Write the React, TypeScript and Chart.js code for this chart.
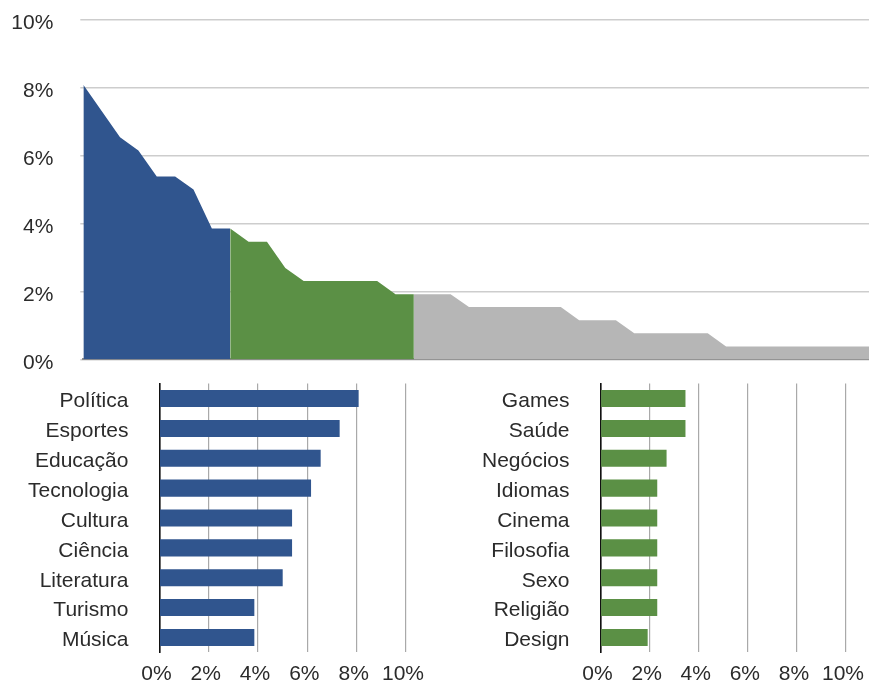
import React, { useEffect, useRef } from 'react';
import { Chart, registerables } from 'chart.js';

Chart.register(...registerables);

// Leading topics (blue group)
const topicsBlue = ['Política', 'Esportes', 'Educação', 'Tecnologia', 'Cultura', 'Ciência', 'Literatura', 'Turismo', 'Música'];
const sharesBlue = [8.08, 7.31, 6.54, 6.15, 5.38, 5.38, 5.0, 3.85, 3.85];

// Middle topics (green group)
const topicsGreen = ['Games', 'Saúde', 'Negócios', 'Idiomas', 'Cinema', 'Filosofia', 'Sexo', 'Religião', 'Design'];
const sharesGreen = [3.46, 3.46, 2.69, 2.31, 2.31, 2.31, 2.31, 2.31, 1.92];

// Remaining long tail (gray group)
const sharesOther = [
  1.92, 1.92, 1.92,
  1.54, 1.54, 1.54, 1.54, 1.54, 1.54,
  1.15, 1.15, 1.15,
  0.77, 0.77, 0.77, 0.77, 0.77,
  0.38, 0.38, 0.38, 0.38, 0.38, 0.38, 0.38, 0.38, 0.38,
];

const percentMax = 10;
const percentStep = 2;

const BLUE = '#30558e';
const GREEN = '#5b9045';
const GRAY = '#b6b6b6';
const TEXT = '#2b2b2b';
const FONT = { family: '"Liberation Sans", Arial, Helvetica, sans-serif', size: 21 };

const pct = (v: number | string) => `${v}%`;

type Box = { left: number; right: number; top: number; bottom: number };

// Builds the chart twice: a first pass measures how much room the axes take,
// then the canvas is sized and placed so the plot area lands on the given box.
function mountChart(canvas: HTMLCanvasElement, makeConfig: () => any, box: Box): Chart {
  canvas.width = 1000;
  canvas.height = 600;
  let chart = new Chart(canvas, makeConfig());
  const a = chart.chartArea;
  const extraW = 1000 - (a.right - a.left);
  const extraH = 600 - (a.bottom - a.top);
  chart.destroy();
  canvas.width = Math.round(box.right - box.left + extraW);
  canvas.height = Math.round(box.bottom - box.top + extraH);
  chart = new Chart(canvas, makeConfig());
  const b = chart.chartArea;
  canvas.style.position = 'absolute';
  canvas.style.left = `${box.left - b.left}px`;
  canvas.style.top = `${box.top - b.top}px`;
  return chart;
}

function AreaOverview() {
  const ref = useRef<HTMLCanvasElement>(null);
  useEffect(() => {
    const blueEnd = sharesBlue.length - 1;
    const greenEnd = sharesBlue.length + sharesGreen.length;
    const makeConfig = () => ({
      type: 'line',
      data: {
        labels: [...topicsBlue, ...topicsGreen, ...sharesOther.map(() => '')],
        datasets: [
          {
            data: [...sharesBlue, ...sharesGreen, ...sharesOther],
            fill: 'origin',
            backgroundColor: GRAY,
            borderWidth: 0,
            borderColor: 'rgba(0,0,0,0)',
            pointRadius: 0,
            tension: 0,
            segment: {
              backgroundColor: (ctx: any) =>
                ctx.p0DataIndex < blueEnd ? BLUE : ctx.p0DataIndex < greenEnd ? GREEN : GRAY,
            },
          },
        ],
      },
      options: {
        responsive: false,
        maintainAspectRatio: false,
        animation: false,
        layout: { padding: 0 },
        plugins: { legend: { display: false }, tooltip: { enabled: false } },
        scales: {
          x: {
            ticks: { display: false },
            grid: { display: false },
            border: { display: true, color: '#8f8f8f', width: 2 },
            afterFit: (s: any) => { s.height = 0; },
          },
          y: {
            min: 0,
            max: percentMax,
            ticks: { stepSize: percentStep, callback: pct, font: FONT, color: TEXT, padding: 27, labelOffset: 3.5 },
            grid: { color: '#cdcdcd', lineWidth: 1.5, drawTicks: true, tickLength: 3 },
            border: { display: false },
            afterFit: (s: any) => { s.width = 83.3; },
          },
        },
      },
    });
    const chart = mountChart(ref.current!, makeConfig, { left: 83.3, right: 873.2, top: 20, bottom: 360 });
    return () => chart.destroy();
  }, []);
  return <canvas ref={ref} style={{ position: 'absolute' }} />;
}

function TopicBars(props: { labels: string[]; values: number[]; color: string; box: Box }) {
  const ref = useRef<HTMLCanvasElement>(null);
  useEffect(() => {
    const makeConfig = () => ({
      type: 'bar',
      data: {
        labels: props.labels,
        datasets: [
          {
            data: props.values,
            backgroundColor: props.color,
            borderWidth: 0,
            barPercentage: 0.57,
            categoryPercentage: 1,
          },
        ],
      },
      options: {
        indexAxis: 'y',
        responsive: false,
        maintainAspectRatio: false,
        animation: false,
        layout: { padding: 0 },
        plugins: { legend: { display: false }, tooltip: { enabled: false } },
        scales: {
          x: {
            min: 0,
            max: percentMax,
            ticks: { stepSize: percentStep, callback: pct, font: FONT, color: TEXT, padding: 9, labelOffset: -3 },
            grid: { color: '#a9a9a9', lineWidth: 1.2, drawTicks: false },
            border: { display: false },
          },
          y: {
            ticks: { font: FONT, color: TEXT, padding: 31, labelOffset: 3 },
            grid: { display: false, drawTicks: false },
            border: { display: true, color: '#111111', width: 1.6 },
          },
        },
      },
    });
    const chart = mountChart(ref.current!, makeConfig, props.box);
    return () => chart.destroy();
  }, []);
  return <canvas ref={ref} style={{ position: 'absolute' }} />;
}

export default function App() {
  return (
    <div
      style={{
        position: 'fixed',
        left: 0,
        top: 0,
        width: 869,
        height: 687,
        overflow: 'hidden',
        background: '#ffffff',
      }}
    >
      <AreaOverview />
      <TopicBars
        labels={topicsBlue}
        values={sharesBlue}
        color={BLUE}
        box={{ left: 159, right: 406, top: 383.4, bottom: 652 }}
      />
      <TopicBars
        labels={topicsGreen}
        values={sharesGreen}
        color={GREEN}
        box={{ left: 601, right: 846.7, top: 383.4, bottom: 652 }}
      />
    </div>
  );
}
